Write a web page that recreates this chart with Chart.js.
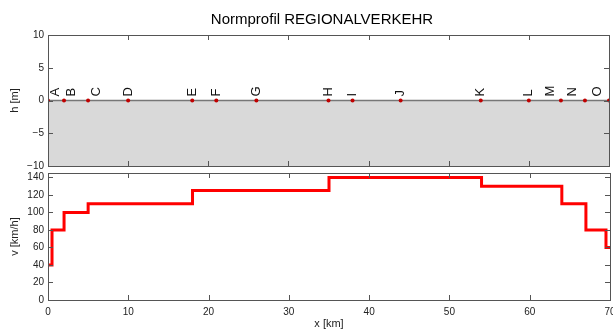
<!DOCTYPE html>
<html>
<head>
<meta charset="utf-8">
<script src="https://cdn.jsdelivr.net/npm/chart.js@4"></script>
<style>
  body { margin: 0; background: #fff; }
  #wrap { position: relative; width: 613px; height: 329px; }
  canvas { position: absolute; left: 0; }
  #profileChart { top: 0; }
  #speedChart { top: 170px; }
</style>
</head>
<body>
<div id="wrap">
  <canvas id="profileChart" width="613" height="175"></canvas>
  <canvas id="speedChart" width="613" height="159"></canvas>
</div>
<script>
// stations along the line (km) and their names
const stationKm = [0, 2, 5, 10, 18, 21, 26, 35, 38, 44, 54, 60, 64, 67, 70];
const stationH = [0, 0, 0, 0, 0, 0, 0, 0, 0, 0, 0, 0, 0, 0, 0];
const stationNames = ['A', 'B', 'C', 'D', 'E', 'F', 'G', 'H', 'I', 'J', 'K', 'L', 'M', 'N', 'O'];
// where the names are written (km), nudged apart at the crowded ends
const nameKm = [0.9, 2.9, 6, 10, 18, 21, 26, 35, 38, 44, 54, 60, 62.7, 65.4, 68.5];

// ground level
const groundKm = [0, 70];
const groundH = [0, 0];

// speed profile: each value holds from its km until the next one
const speedKm = [0, 0.5, 2, 5, 18, 35, 54, 64, 67, 69.5, 70];
const speedV = [40, 80, 100, 110, 125, 140, 130, 110, 80, 60, 60];

const TITLE = 'Normprofil REGIONALVERKEHR';
const FONT = "'Liberation Sans', Arial, Helvetica, sans-serif";
Chart.defaults.font.family = FONT;
Chart.defaults.color = '#222';

function pts(xs, ys) {
    return xs.map(function (x, i) { return {x: x, y: ys[i]}; });
}

// box around the axes with inward ticks on all four sides
const matlabBox = {
    id: 'matlabBox',
    afterDatasetsDraw: function (chart) {
        const ctx = chart.ctx;
        const a = chart.chartArea;
        const xs = chart.scales.x;
        const ys = chart.scales.y;
        const len = 5;
        ctx.save();
        ctx.strokeStyle = '#555';
        ctx.lineWidth = 1;
        ctx.beginPath();
        xs.ticks.forEach(function (t) {
            const px = Math.round(xs.getPixelForValue(t.value)) + 0.5;
            if (px <= a.left + 1 || px >= a.right - 1) return;
            ctx.moveTo(px, a.bottom); ctx.lineTo(px, a.bottom - len);
            ctx.moveTo(px, a.top); ctx.lineTo(px, a.top + len);
        });
        ys.ticks.forEach(function (t) {
            const py = Math.round(ys.getPixelForValue(t.value)) + 0.5;
            if (py <= a.top + 1 || py >= a.bottom - 1) return;
            ctx.moveTo(a.left, py); ctx.lineTo(a.left + len, py);
            ctx.moveTo(a.right, py); ctx.lineTo(a.right - len, py);
        });
        ctx.stroke();
        ctx.strokeRect(Math.round(a.left) + 0.5, Math.round(a.top) + 0.5,
            Math.round(a.right - a.left), Math.round(a.bottom - a.top));
        ctx.restore();
    }
};

// station names, written upwards just above the ground line
const stationLabels = {
    id: 'stationLabels',
    afterDatasetsDraw: function (chart) {
        const ctx = chart.ctx;
        const xs = chart.scales.x;
        const ys = chart.scales.y;
        ctx.save();
        ctx.font = '13px ' + FONT;
        ctx.fillStyle = '#111';
        ctx.textAlign = 'left';
        ctx.textBaseline = 'middle';
        stationNames.forEach(function (name, i) {
            ctx.save();
            ctx.translate(xs.getPixelForValue(nameKm[i]), ys.getPixelForValue(0) - 4);
            ctx.rotate(-Math.PI / 2);
            ctx.fillText(name, 0, 0);
            ctx.restore();
        });
        ctx.restore();
    }
};

// title centred over the plot, matlab style
const axesTitle = {
    id: 'axesTitle',
    afterDraw: function (chart) {
        const ctx = chart.ctx;
        ctx.save();
        ctx.font = '15px ' + FONT;
        ctx.fillStyle = '#000';
        ctx.textAlign = 'center';
        ctx.textBaseline = 'middle';
        ctx.fillText(TITLE, 322, 20);
        ctx.restore();
    }
};

function fixWidth(w) {
    return function (scale) {
        scale.width = w;
        scale.paddingTop = 0;
        scale.paddingBottom = 0;
    };
}
function fixHeight(h) {
    return function (scale) {
        scale.height = h;
        scale.paddingLeft = 0;
        scale.paddingRight = 0;
    };
}
function minus(v) {
    return String(v).replace('-', '\u2212');
}

const profileConfig = {
    type: 'scatter',
    data: {
        datasets: [{
            data: pts(stationKm, stationH),
            pointRadius: 2,
            pointBackgroundColor: '#c00000',
            pointBorderWidth: 0,
            showLine: false,
            order: 0
        }, {
            data: pts(groundKm, groundH),
            showLine: true,
            borderColor: '#777',
            borderWidth: 1.5,
            backgroundColor: '#d9d9d9',
            fill: 'start',
            pointRadius: 0,
            order: 1
        }]
    },
    options: {
        responsive: false,
        devicePixelRatio: 1,
        animation: false,
        layout: {padding: {left: 0, right: 3, top: 35, bottom: 0}},
        plugins: {
            legend: {display: false},
            tooltip: {enabled: false}
        },
        scales: {
            x: {
                min: 0, max: 70,
                ticks: {stepSize: 10, display: false},
                grid: {display: false},
                border: {display: false},
                afterFit: fixHeight(9)
            },
            y: {
                min: -10, max: 10,
                ticks: {stepSize: 5, padding: 4, font: {size: 10}, callback: minus},
                grid: {display: false, drawTicks: false},
                border: {display: false},
                title: {display: true, text: 'h [m]', font: {size: 11, lineHeight: 1}, padding: {top: 9, bottom: 0}},
                afterFit: fixWidth(48)
            }
        }
    },
    plugins: [matlabBox, stationLabels, axesTitle]
};

const speedConfig = {
    type: 'scatter',
    data: {
        datasets: [{
            data: pts(speedKm, speedV),
            showLine: true,
            stepped: true,
            borderColor: '#ff0000',
            borderWidth: 3,
            pointRadius: 0,
            fill: false
        }]
    },
    options: {
        responsive: false,
        devicePixelRatio: 1,
        animation: false,
        layout: {padding: {left: 0, right: 3, top: 3, bottom: 0}},
        plugins: {
            legend: {display: false},
            tooltip: {enabled: false}
        },
        scales: {
            x: {
                min: 0, max: 70,
                ticks: {stepSize: 10, padding: 6, font: {size: 10}, maxRotation: 0},
                grid: {display: false, drawTicks: false},
                border: {display: false},
                title: {display: true, text: 'x [km]', font: {size: 11, lineHeight: 1}, padding: {top: 0, bottom: 0}},
                afterFit: fixHeight(29)
            },
            y: {
                min: 0, max: 145,
                ticks: {stepSize: 20, padding: 4, font: {size: 10}, includeBounds: false},
                grid: {display: false, drawTicks: false},
                border: {display: false},
                title: {display: true, text: 'v [km/h]', font: {size: 11, lineHeight: 1}, padding: {top: 9, bottom: 0}},
                afterFit: fixWidth(48)
            }
        }
    },
    plugins: [matlabBox]
};

new Chart(document.getElementById('profileChart'), profileConfig);
new Chart(document.getElementById('speedChart'), speedConfig);
</script>
</body>
</html>
